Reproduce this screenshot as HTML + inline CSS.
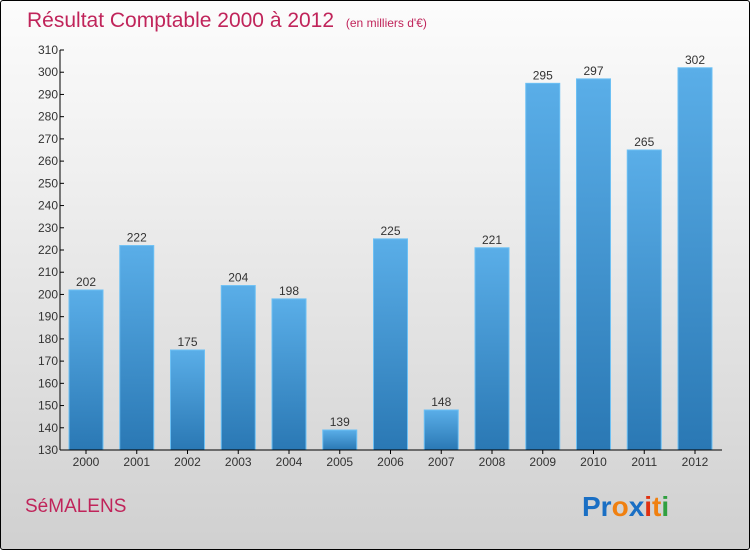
<!DOCTYPE html>
<html><head><meta charset="utf-8"><style>
body{margin:0;width:750px;height:550px;overflow:hidden;font-family:"Liberation Sans",sans-serif}
#wrap{position:absolute;left:0;top:0;width:748px;height:548px;border:1px solid #000;border-radius:3px;background:linear-gradient(#fcfcfc,#f0f0f0 30%,#d0d0d0)}
</style></head><body>
<div id="wrap">
<svg width="750" height="550" style="position:absolute;left:-1px;top:-1px">
<defs><linearGradient id="bg" x1="0" y1="0" x2="0" y2="1"><stop offset="0" stop-color="#5aaee8"/><stop offset="1" stop-color="#2a78b4"/></linearGradient></defs>
<text x="27" y="27" font-size="21" fill="#c0245a">Résultat Comptable 2000 à 2012 <tspan font-size="12" dx="6">(en milliers d'€)</tspan></text>
<g id="plot"></g>
<text x="25" y="512" font-size="19" fill="#c0245a">SéMALENS</text>
<text x="582" y="516" font-size="28" font-weight="bold"><tspan fill="#1a6fc4">Pr</tspan><tspan fill="#f08010">o</tspan><tspan fill="#1a6fc4">x</tspan><tspan fill="#e03010">i</tspan><tspan fill="#f08010">t</tspan><tspan fill="#30a040">i</tspan></text>
</svg></div>
<script>
const years=["2000","2001","2002","2003","2004","2005","2006","2007","2008","2009","2010","2011","2012"];
const values=[202,222,175,204,198,139,225,148,221,295,297,265,302];
const ticks=[130,140,150,160,170,180,190,200,210,220,230,240,250,260,270,280,290,300,310];
const g=document.getElementById('plot');const NS='http://www.w3.org/2000/svg';
const y=v=>450-(v-130)*400/180;const x=i=>86+i*50.75;
function el(t,a){const e=document.createElementNS(NS,t);for(const k in a)e.setAttribute(k,a[k]);g.appendChild(e);return e;}
values.forEach((v,i)=>{
const r=el('rect',{x:x(i)-17,y:y(v),width:34,height:450-y(v),fill:'url(#bg)',stroke:'#6cc0f4','stroke-width':1});


const t=el('text',{x:x(i),y:y(v)-4,'font-size':12,'text-anchor':'middle',fill:'#333'});t.textContent=v;


const xl=el('text',{x:x(i),y:466,'font-size':12,'text-anchor':'middle',fill:'#333'});xl.textContent=years[i];


el('line',{x1:x(i),x2:x(i),y1:450,y2:454,stroke:'#000'});
});
ticks.forEach(v=>{
el('line',{x1:60,x2:64,y1:y(v),y2:y(v),stroke:'#000'});
const t=el('text',{x:58,y:y(v)+4,'font-size':12,'text-anchor':'end',fill:'#333'});t.textContent=v;


});
const ya=el('line',{x1:60,x2:60,y1:y(310),y2:450,stroke:'#000'});


const xa=el('line',{x1:60,x2:722,y1:450,y2:450,stroke:'#000'});


</script>
</body></html>
